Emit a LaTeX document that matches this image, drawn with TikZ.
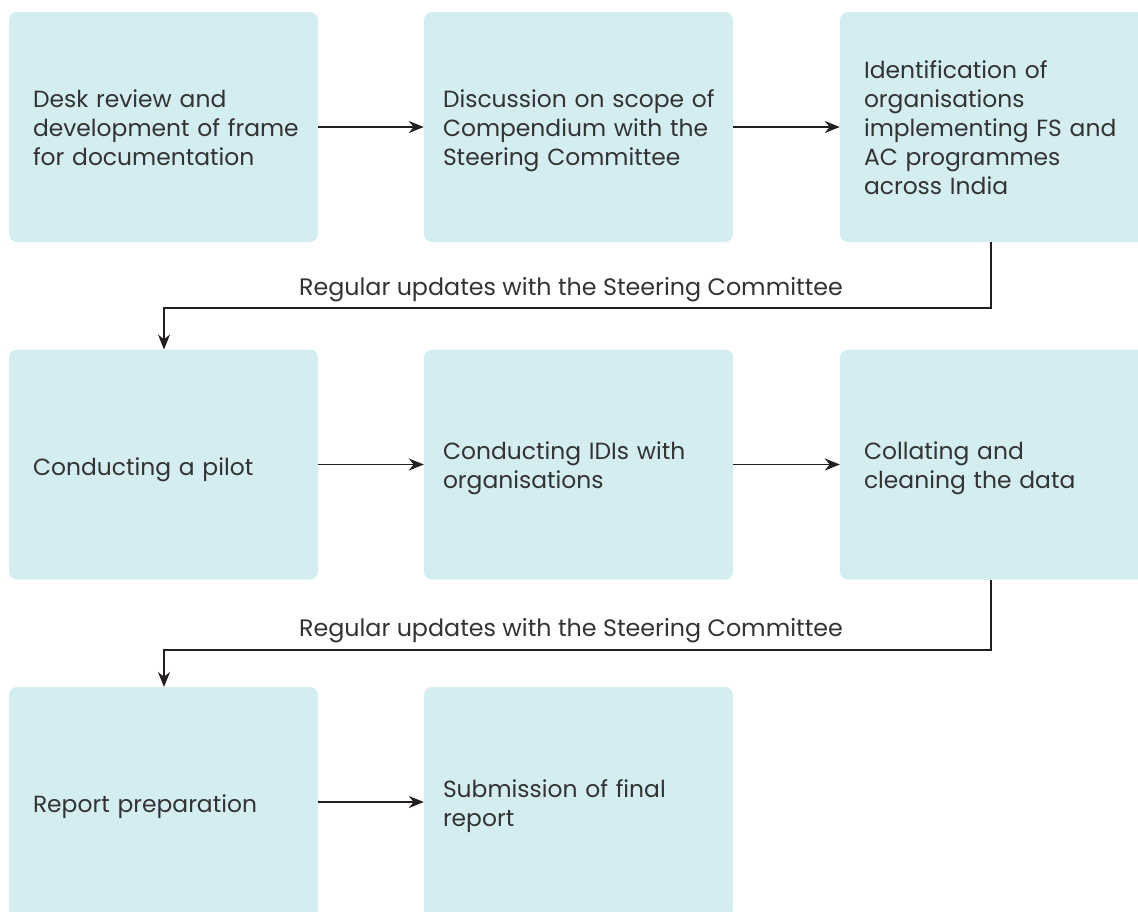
\documentclass[tikz,border=0pt]{standalone}
\usepackage{fontspec}
\setmainfont{Poppins}
\usetikzlibrary{arrows.meta}
\definecolor{boxfill}{HTML}{D3EDF1}
\definecolor{txt}{HTML}{333333}
\definecolor{ln}{HTML}{231F20}
\newcommand{\boxlines}[2][7pt]{\vspace*{#1}\par\noindent\begin{tabular}{@{}l@{}}#2\end{tabular}}
\tikzset{
  stepbox/.style={rectangle, rounded corners=8pt, fill=boxfill, draw=none,
    minimum width=309pt, minimum height=230pt, text width=261pt, inner xsep=24pt,
    align=left, font=\fontsize{23.4}{29}\selectfont, text=txt},
  midbox/.style={stepbox, text width=271pt, inner xsep=19pt},
  arr/.style={draw=ln, line width=1.8pt, -{Stealth[length=15pt,width=12pt]}},
  lbl/.style={font=\fontsize{23.8}{29}\selectfont, text=txt, inner sep=0pt}
}
\begin{document}
\begin{tikzpicture}[x=1pt,y=-1pt]
\useasboundingbox (0,0) rectangle (1138,911);
\clip (0,0) rectangle (1138,911);
\node[stepbox] (b1) at (163.5,127) {\boxlines{Desk review and\\development of frame\\for documentation}};
\node[midbox] (b2) at (578.5,127) {\boxlines{Discussion on scope of\\Compendium with the\\Steering Committee}};
\node[stepbox] (b3) at (994.5,127) {\boxlines{Identification of\\organisations\\implementing FS and\\AC programmes\\across India}};
\node[stepbox] (b4) at (163.5,464.5) {\boxlines[2pt]{Conducting a pilot}};
\node[midbox] (b5) at (578.5,464.5) {\boxlines{Conducting IDIs with\\organisations}};
\node[stepbox] (b6) at (994.5,464.5) {\boxlines{Collating and\\cleaning the data}};
\node[stepbox] (b7) at (163.5,802) {\boxlines[2pt]{Report preparation}};
\node[midbox] (b8) at (578.5,802) {\boxlines{Submission of final\\report}};
\draw[arr] (b1.east) -- (b2.west);
\draw[arr] (b2.east) -- (b3.west);
\draw[arr] (b4.east) -- (b5.west);
\draw[arr] (b5.east) -- (b6.west);
\draw[arr] (b7.east) -- (b8.west);
\coordinate (k1) at (991,308);
\coordinate (k2) at (991,650);
\coordinate (t4) at (164,349.5);
\coordinate (t7) at (164,687);
\coordinate (s3) at (991,242);
\coordinate (s6) at (991,579.5);
\draw[arr] (s3) -- (k1) -| (t4);
\draw[arr] (s6) -- (k2) -| (t7);
\node[lbl] (l1) at (571,290) {Regular updates with the Steering Committee};
\node[lbl] (l2) at (571,631) {Regular updates with the Steering Committee};
\end{tikzpicture}
\end{document}
